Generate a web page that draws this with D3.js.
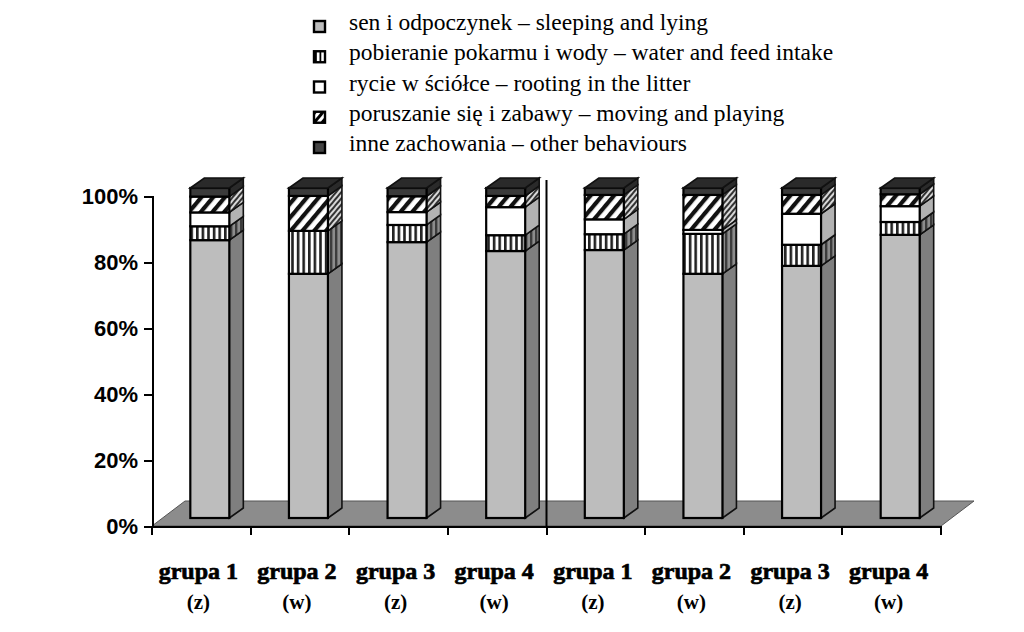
<!DOCTYPE html>
<html>
<head>
<meta charset="utf-8">
<style>
  html, body { margin:0; padding:0; background:#fff; }
  svg { display:block; }
  .axis path, .axis line { stroke:#000; stroke-width:2px; fill:none; shape-rendering:crispEdges; }
  .axis text { fill:#000; stroke:none; }
  .y.axis text { font:bold 22px "Liberation Sans", sans-serif; }
  .legend text { font:23.5px "Liberation Serif", serif; fill:#000; }
  .grp { font:bold 24px "Liberation Serif", serif; fill:#000; stroke:#000; stroke-width:.7px; text-anchor:middle; }
  .sub { font:bold 21px "Liberation Serif", serif; fill:#000; text-anchor:middle; }
</style>
<script src="https://d3js.org/d3.v7.min.js"></script>
</head>
<body>
<script>
const groups = ["grupa 1","grupa 2","grupa 3","grupa 4","grupa 1","grupa 2","grupa 3","grupa 4"];
const feeding = ["(z)","(w)","(z)","(w)","(z)","(w)","(z)","(w)"];
const legendLabels = [
  "sen i odpoczynek – sleeping and lying",
  "pobieranie pokarmu i wody – water and feed intake",
  "rycie w ściółce – rooting in the litter",
  "poruszanie się i zabawy – moving and playing",
  "inne zachowania – other behaviours"
];
const sleeping = [84.2, 74.0, 83.6, 80.9, 81.2, 74.0, 76.4, 85.8];
const feed     = [ 4.2, 13.0,  5.2,  4.8,  4.8, 12.1,  6.4,  3.9];
const rooting  = [ 4.2,  0.0,  3.9,  8.5,  4.5,  1.2,  9.4,  4.8];
const moving   = [ 4.8, 10.6,  4.8,  3.4,  7.4, 10.6,  5.7,  3.6];
const other    = [ 2.6,  2.4,  2.5,  2.4,  2.1,  2.1,  2.1,  1.9];
const yTicks = [0, 20, 40, 60, 80, 100];

const seriesValues = [sleeping, feed, rooting, moving, other];

const width = 1024, height = 632;
const svg = d3.select("body").append("svg").attr("width", width).attr("height", height);

const x = d3.scaleBand().domain(d3.range(groups.length)).range([152, 941]).padding(0);
const y = d3.scaleLinear().domain([0, 100]).range([526, 196]);

// depth of the 3d effect
const floorDx = 33, floorDy = -25;
const barDx = 14, barDy = -10;
const barShiftX = 8 + 0.5, barShiftY = -8;
const barW = 39;

const defs = svg.append("defs");
function stripes(id, bg, fg, w, gap) {
  const p = defs.append("pattern").attr("id", id).attr("patternUnits", "userSpaceOnUse")
    .attr("width", gap).attr("height", gap);
  p.append("rect").attr("width", gap).attr("height", gap).attr("fill", bg);
  p.append("rect").attr("width", w).attr("height", gap).attr("fill", fg);
}
function hatch(id, bg, fg, w, gap) {
  const p = defs.append("pattern").attr("id", id).attr("patternUnits", "userSpaceOnUse")
    .attr("width", gap).attr("height", gap).attr("patternTransform", "rotate(40)");
  p.append("rect").attr("width", gap).attr("height", gap).attr("fill", bg);
  p.append("rect").attr("width", w).attr("height", gap).attr("fill", fg);
}
stripes("vert", "#fff", "#222", 2.6, 5.6);
stripes("vertSide", "#8c8c8c", "#3c3c3c", 2.4, 5);
hatch("diag", "#fff", "#111", 4.2, 9);
hatch("diagSide", "#d8d8d8", "#333", 2, 4);

const fronts = ["#bdbdbd", "url(#vert)", "#fff", "url(#diag)", "#3a3a3a"];
const sides  = ["#7f7f7f", "url(#vertSide)", "#b2b2b2", "url(#diagSide)", "#2a2a2a"];

// floor
const floorPts = [[x.range()[0], y(0)], [x.range()[0] + floorDx, y(0) + floorDy],
                  [x.range()[1] + floorDx, y(0) + floorDy], [x.range()[1], y(0)]];
svg.append("path").attr("d", d3.line()(floorPts) + "Z").attr("fill", "#8c8c8c").attr("stroke", "#555").attr("stroke-width", 1);

// bars
const stackKeys = d3.range(seriesValues.length);
const rows = groups.map((g, i) => Object.fromEntries(stackKeys.map(k => [k, seriesValues[k][i]])));
const stacked = d3.stack().keys(stackKeys)(rows);
const h0 = y(0);

stacked.forEach((layer, k) => {
  const g = svg.append("g").attr("class", "layer");
  layer.forEach((d, i) => {
    if (d[1] - d[0] <= 0) return;
    const xl = x(i) + barShiftX + (x.bandwidth() - barW) / 2 , xr = xl + barW;
    const yb = y(d[0]) + barShiftY, yt = y(d[1]) + barShiftY;
    // right side
    g.append("path")
      .attr("d", d3.line()([[xr, yb], [xr + barDx, yb + barDy], [xr + barDx, yt + barDy], [xr, yt]]) + "Z")
      .attr("fill", sides[k]).attr("stroke", "#111").attr("stroke-width", 1.6);
    // front
    g.append("rect").attr("x", xl).attr("y", yt).attr("width", barW).attr("height", yb - yt)
      .attr("fill", fronts[k]).attr("stroke", "#000").attr("stroke-width", 2.2);
    // top cap
    if (k === stacked.length - 1) {
      g.append("path")
        .attr("d", d3.line()([[xl, yt], [xl + barDx, yt + barDy], [xr + barDx, yt + barDy], [xr, yt]]) + "Z")
        .attr("fill", "#2a2a2a").attr("stroke", "#111").attr("stroke-width", 1.6);
    }
  });
});

// axes
const yAxis = d3.axisLeft(y).tickValues(yTicks).tickFormat(d => d + "%").tickSize(8).tickPadding(6);
svg.append("g").attr("class", "y axis").attr("transform", "translate(152,0)").call(yAxis);

const xAxis = d3.axisBottom(x).tickSize(0).tickFormat("");
const xg = svg.append("g").attr("class", "x axis").attr("transform", "translate(0,526)").call(xAxis);
xg.selectAll(".tick").remove();
xg.selectAll("line.sep").data(d3.range(groups.length + 1)).join("line").attr("class", "sep")
  .attr("x1", i => i < groups.length ? x(i) : x.range()[1]).attr("x2", i => i < groups.length ? x(i) : x.range()[1])
  .attr("y1", 0).attr("y2", 9);

// separator between the two parts
const mid = x(4) - 1;
svg.append("line").attr("x1", mid + 1 - 0).attr("x2", mid + 1 - 0)
  .attr("y1", y(100) - 16).attr("y2", y(0)).attr("stroke", "#000").attr("stroke-width", 2);

// category labels
const labelX = i => x(i) + x.bandwidth() / 2 - 3;
svg.selectAll("text.grp").data(groups).join("text").attr("class", "grp")
  .attr("x", (d, i) => labelX(i)).attr("y", 579).text(d => d);
svg.selectAll("text.sub").data(feeding).join("text").attr("class", "sub")
  .attr("x", (d, i) => labelX(i)).attr("y", 609).text(d => d);

// legend
const legendY = d3.scaleLinear().domain([0, 4]).range([30, 151]);
const leg = svg.append("g").attr("class", "legend");
const swatchFill = ["#bdbdbd", "url(#vertLeg)", "#fff", "url(#diagLeg)", "#444"];
const vl = defs.append("pattern").attr("id", "vertLeg").attr("patternUnits", "userSpaceOnUse").attr("width", 4.5).attr("height", 4.5).attr("x", 315);
vl.append("rect").attr("width", 4.5).attr("height", 4.5).attr("fill", "#fff");
vl.append("rect").attr("width", 1.8).attr("height", 4.5).attr("fill", "#000");
const dl = defs.append("pattern").attr("id", "diagLeg").attr("patternUnits", "userSpaceOnUse").attr("width", 6).attr("height", 6).attr("patternTransform", "rotate(40)");
dl.append("rect").attr("width", 6).attr("height", 6).attr("fill", "#fff");
dl.append("rect").attr("width", 3).attr("height", 6).attr("fill", "#000");
legendLabels.forEach((t, i) => {
  leg.append("rect").attr("x", 314).attr("y", legendY(i) - 9).attr("width", 11).attr("height", 11)
    .attr("fill", swatchFill[i]).attr("stroke", "#000").attr("stroke-width", 2.4);
  leg.append("text").attr("x", 349).attr("y", legendY(i)).text(t);
});
</script>
</body>
</html>
